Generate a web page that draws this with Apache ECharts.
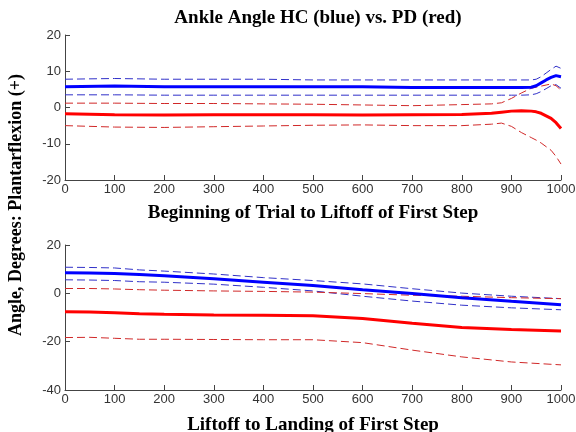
<!DOCTYPE html>
<html>
<head>
<meta charset="utf-8">
<script src="https://cdn.jsdelivr.net/npm/echarts@6/dist/echarts.min.js"></script>
<style>
  html, body { margin: 0; padding: 0; background: #fff; }
  #main { width: 576px; height: 432px; }
</style>
</head>
<body>
<div id="main"></div>
<script>
// top panel: beginning of trial -> liftoff
const xTop = [0, 100, 200, 300, 400, 500, 600, 700, 800, 860, 880, 900, 920, 940, 950, 960, 970, 980, 990, 1000]
const hcMeanTop = [5.7, 5.9, 5.7, 5.7, 5.7, 5.7, 5.7, 5.5, 5.5, 5.5, 5.5, 5.5, 5.5, 5.6, 6.0, 6.8, 7.6, 8.3, 8.8, 8.5]
const hcUpTop = [7.8, 8.0, 7.8, 7.8, 7.8, 7.6, 7.6, 7.6, 7.6, 7.6, 7.6, 7.6, 7.6, 7.6, 7.8, 8.5, 9.5, 10.5, 11.4, 10.8]
const hcLoTop = [3.5, 3.5, 3.4, 3.4, 3.4, 3.4, 3.4, 3.4, 3.4, 3.4, 3.4, 3.4, 3.4, 3.5, 3.8, 4.4, 5.2, 6.0, 6.3, 5.3]
const pdMeanTop = [-1.7, -2.0, -2.1, -2.0, -2.0, -2.0, -2.1, -2.0, -1.9, -1.6, -1.3, -1.0, -0.9, -1.0, -1.2, -1.6, -2.3, -3.0, -4.2, -5.8]
const pdUpTop = [1.2, 1.2, 1.1, 1.1, 1.0, 0.9, 0.7, 0.5, 0.8, 1.0, 1.3, 2.5, 4.0, 5.3, 5.6, 5.9, 6.2, 6.5, 6.0, 4.8]
const pdLoTop = [-5.0, -5.4, -5.5, -5.3, -5.1, -4.9, -4.8, -5.0, -5.0, -4.6, -4.3, -5.2, -6.9, -8.3, -9.0, -9.8, -10.8, -11.8, -13.5, -15.6]

// bottom panel: liftoff -> landing
const xBot = [0, 50, 100, 150, 200, 300, 400, 500, 600, 700, 800, 900, 1000]
const hcMeanBot = [8.5, 8.4, 8.2, 7.8, 7.3, 6.0, 4.6, 3.2, 1.5, -0.1, -1.8, -3.3, -4.7]
const hcUpBot = [10.8, 10.7, 10.5, 9.7, 9.2, 8.0, 6.5, 5.3, 3.9, 1.9, 0.1, -1.2, -2.2]
const hcLoBot = [5.6, 5.5, 5.3, 4.8, 4.6, 3.8, 2.5, 1.0, -1.2, -3.2, -4.9, -6.0, -6.8]
const pdMeanBot = [-7.6, -7.7, -8.0, -8.4, -8.7, -9.0, -9.1, -9.3, -10.4, -12.4, -14.1, -15.0, -15.6]
const pdUpBot = [2.0, 2.0, 1.8, 1.5, 1.3, 1.0, 0.8, 0.5, -0.1, -0.8, -1.2, -1.8, -2.2]
const pdLoBot = [-18.3, -18.2, -18.6, -19.0, -19.0, -19.1, -19.2, -19.2, -20.4, -23.5, -26.3, -28.4, -29.6]

const serif = 'Liberation Serif'
const sans = 'Liberation Sans'

function line(xs, ys, idx, color, width, dashed) {
  return {
    type: 'line',
    xAxisIndex: idx,
    yAxisIndex: idx,
    data: xs.map((x, i) => [x, ys[i]]),
    symbol: 'none',
    lineStyle: { color, width, type: dashed ? [8, 4] : 'solid' },
    z: dashed ? 2 : 3,
  }
}

function xAxis(idx, name, gap) {
  return {
    type: 'value',
    gridIndex: idx,
    min: 0,
    max: 1000,
    interval: 100,
    name,
    nameLocation: 'middle',
    nameGap: gap,
    nameTextStyle: { fontFamily: serif, fontWeight: 'bold', fontSize: 19, color: '#000' },
    axisLine: { onZero: false, lineStyle: { color: '#444' } },
    axisTick: { inside: true, length: 5, lineStyle: { color: '#444' } },
    axisLabel: { fontFamily: sans, fontSize: 13, color: '#333', margin: 3, formatter: v => String(v) },
    splitLine: { show: false },
  }
}

function yAxis(idx, min, max, interval) {
  return {
    type: 'value',
    gridIndex: idx,
    min,
    max,
    interval,
    axisLine: { show: true, onZero: false, lineStyle: { color: '#444' } },
    axisTick: { show: true, inside: true, length: 5, lineStyle: { color: '#444' } },
    axisLabel: { fontFamily: sans, fontSize: 13, color: '#333', margin: 4 },
    splitLine: { show: false },
  }
}

const blue = '#0000ff'
const blueDash = '#3030c8'
const red = '#ff0000'
const redDash = '#d02828'

const chart = echarts.init(document.getElementById('main'))
chart.setOption({
  animation: false,
  title: {
    text: 'Ankle Angle HC (blue) vs. PD (red)',
    left: 313,
    textAlign: 'center',
    top: 4,
    textStyle: { fontFamily: serif, fontWeight: 'bold', fontSize: 19, color: '#000' },
  },
  grid: [
    { left: 65, right: 15, top: 35, height: 145, outerBoundsMode: 'none', containLabel: false },
    { left: 65, right: 15, top: 245, height: 145, outerBoundsMode: 'none', containLabel: false },
  ],
  xAxis: [
    xAxis(0, 'Beginning of Trial to Liftoff of First Step', 24),
    xAxis(1, 'Liftoff to Landing of First Step', 26),
  ],
  yAxis: [
    yAxis(0, -20, 20, 10),
    yAxis(1, -40, 20, 20),
  ],
  graphic: [{
    type: 'text',
    x: 16,
    y: 205,
    rotation: Math.PI / 2,
    style: {
      text: 'Angle, Degrees: Plantarflexion (+)',
      font: 'bold 18px ' + serif,
      fill: '#000',
      align: 'center',
      verticalAlign: 'middle',
    },
  }],
  series: [
    line(xTop, hcUpTop, 0, blueDash, 1, true),
    line(xTop, hcLoTop, 0, blueDash, 1, true),
    line(xTop, pdUpTop, 0, redDash, 1, true),
    line(xTop, pdLoTop, 0, redDash, 1, true),
    line(xTop, hcMeanTop, 0, blue, 3, false),
    line(xTop, pdMeanTop, 0, red, 3, false),
    line(xBot, hcUpBot, 1, blueDash, 1, true),
    line(xBot, hcLoBot, 1, blueDash, 1, true),
    line(xBot, pdUpBot, 1, redDash, 1, true),
    line(xBot, pdLoBot, 1, redDash, 1, true),
    line(xBot, hcMeanBot, 1, blue, 3, false),
    line(xBot, pdMeanBot, 1, red, 3, false),
  ],
})
</script>
</body>
</html>
